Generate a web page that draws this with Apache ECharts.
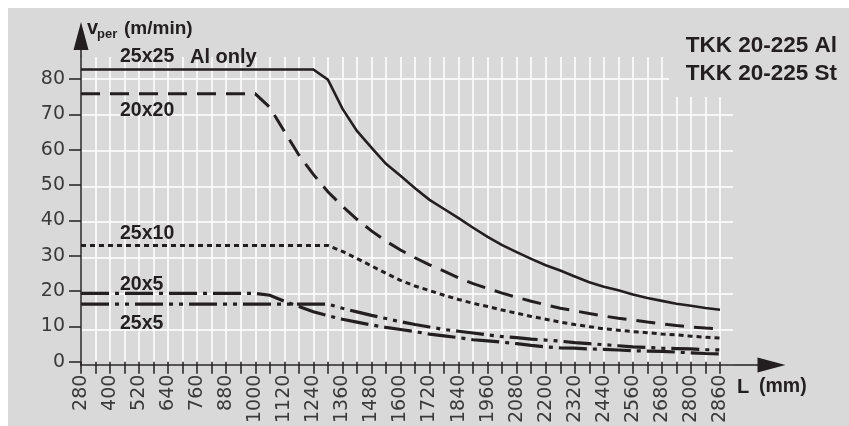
<!DOCTYPE html>
<html><head><meta charset="utf-8">
<script src="https://cdn.jsdelivr.net/npm/echarts@6/dist/echarts.min.js"></script>
<style>html,body{margin:0;padding:0;background:#fff}#c{width:849px;height:426px}</style>
</head><body><div id="c"></div>
<script>
// x tick labels as printed on the chart (minor ticks in between)
const xTickLabels = ['280','400','520','640','760','880','1000','1120','1240','1360','1480','1600','1720','1840','1960','2080','2200','2320','2440','2560','2680','2800','2860'];
const yMin = 0, yMax = 80, yStep = 10;

// values (m/min) at every tick of the L axis (45 ticks)
const s25x25 = [82.7,82.7,82.7,82.7,82.7,82.7,82.7,82.7,82.7,82.7,82.7,82.7,82.7,82.7,82.7,82.7,82.7,
  79.8,71.6,65.3,60.6,56.0,52.6,49.1,45.8,43.2,40.6,37.9,35.3,33.0,31.0,29.1,27.3,25.8,24.1,22.5,21.2,20.2,19.0,18.0,17.2,16.4,15.8,15.2,14.7];
const s20x20 = [75.8,75.8,75.8,75.8,75.8,75.8,75.8,75.8,75.8,75.8,75.8,75.8,75.8,
  72.0,65.2,58.5,53.0,48.1,44.0,40.3,37.0,34.1,31.6,29.4,27.4,25.6,23.7,22.1,20.7,19.4,18.2,17.1,16.1,15.1,14.4,13.6,12.9,12.3,11.8,11.2,10.7,10.2,9.8,9.5,9.3];
const s25x10 = [32.9,32.9,32.9,32.9,32.9,32.9,32.9,32.9,32.9,32.9,32.9,32.9,32.9,32.9,32.9,32.9,32.9,32.9,
  31.2,29.2,27.1,25.0,23.0,21.4,20.1,18.8,17.6,16.5,15.6,14.6,13.7,12.8,12.0,11.2,10.5,9.9,9.3,8.9,8.5,8.2,7.8,7.6,7.2,6.9,6.7];
const s20x5 = [19.3,19.3,19.3,19.3,19.3,19.3,19.3,19.3,19.3,19.3,19.3,19.3,19.3,
  18.8,17.1,15.6,14.1,13.0,12.0,11.2,10.4,9.7,9.1,8.5,7.8,7.3,6.8,6.2,5.9,5.5,5.1,4.6,4.2,3.9,3.8,3.6,3.5,3.3,3.1,3.0,2.9,2.7,2.5,2.3,2.2];
const s25x5 = [16.3,16.3,16.3,16.3,16.3,16.3,16.3,16.3,16.3,16.3,16.3,16.3,16.3,16.3,16.3,16.3,16.3,16.3,
  15.1,14.1,13.1,12.2,11.3,10.5,9.8,9.1,8.6,8.1,7.6,7.1,6.8,6.4,6.1,5.8,5.4,5.1,4.8,4.5,4.2,4.0,3.8,3.7,3.6,3.4,3.3];

const seriesNames = ['25x25','20x20','25x10','20x5','25x5'];
const seriesData = [s25x25, s20x20, s25x10, s20x5, s25x5];
const seriesDash = ['solid',[19,10],[5,4],[28,6,4,6],[28,6,4,6,4,6]];
const seriesWidth = [2.6,3,3,3.2,3.2];

const cats = [];
xTickLabels.forEach((l,i)=>{ cats.push(l); if(i<xTickLabels.length-1) cats.push(String((+l + +xTickLabels[i+1])/2)); });

const INK = '#231f20', BG = '#d9d9d9', TICKC = '#3a3a3a';
const tickFont = {fontFamily:'DejaVu Sans', fontSize:19, color:TICKC};

function txt(t, x, y, font, align){
  return {type:'text', x:x, y:y, z:10, silent:true,
    style:{text:t, font:font, fill:INK, align:align||'left', verticalAlign:'middle', textAlign:align||'left', textVerticalAlign:'middle'}};
}

const chart = echarts.init(document.getElementById('c'), null, {renderer:'canvas'});
chart.setOption({
  animation:false,
  backgroundColor:'#ffffff',
  grid:[
    {left:81, right:129, top:79, bottom:61},
    {left:81, right:129, top:57, bottom:61},
    {left:81, right:116, top:79, bottom:61},
    {left:81, right:77.5, top:36, bottom:61}
  ],
  xAxis:[
    {gridIndex:0, type:'category', data:cats, boundaryGap:false,
     axisLine:{show:false},
     axisTick:{show:true, interval:0, length:12, lineStyle:{color:INK, width:1.5}},
     axisLabel:Object.assign({interval:1, rotate:90, margin:13}, tickFont),
     splitLine:{show:false}},
    {gridIndex:1, type:'category', data:cats, boundaryGap:false,
     axisLine:{show:false}, axisTick:{show:false}, axisLabel:{show:false},
     splitLine:{show:true, interval:0, lineStyle:{color:'#ffffff', width:1.5}}},
    {gridIndex:2, type:'value', min:0, max:1, show:false},
    {gridIndex:3, type:'value', min:0, max:1,
     axisLine:{show:true, onZero:false, symbol:['none','triangle'], symbolSize:[15,28], lineStyle:{color:INK, width:1.5}},
     axisTick:{show:false}, axisLabel:{show:false}, splitLine:{show:false}}
  ],
  yAxis:[
    {gridIndex:0, type:'value', min:yMin, max:yMax, interval:yStep,
     axisLine:{show:false},
     axisTick:{show:true, length:12, lineStyle:{color:INK, width:1.5}},
     axisLabel:Object.assign({margin:16}, tickFont),
     splitLine:{show:false}},
    {gridIndex:1, type:'value', min:0, max:1, show:false},
    {gridIndex:2, type:'value', min:yMin, max:yMax, interval:yStep,
     axisLine:{show:false}, axisTick:{show:false}, axisLabel:{show:false},
     splitLine:{show:true, lineStyle:{color:'#ffffff', width:1.5}}},
    {gridIndex:3, type:'value', min:0, max:1,
     axisLine:{show:true, onZero:false, symbol:['none','triangle'], symbolSize:[15,28], lineStyle:{color:INK, width:1.5}},
     axisTick:{show:false}, axisLabel:{show:false}, splitLine:{show:false}}
  ],
  series: seriesNames.map((n,i)=>({
    name:n, type:'line', xAxisIndex:0, yAxisIndex:0, data:seriesData[i],
    showSymbol:false, symbol:'none', clip:false, z:3,
    lineStyle:{color:INK, width:seriesWidth[i], type:seriesDash[i], cap:'butt', join:'miter'}
  })),
  graphic:[
    {type:'rect', z:-10, silent:true, shape:{x:8,y:8,width:841,height:418}, style:{fill:BG}},
    {type:'rect', z:1, silent:true, shape:{x:669,y:8,width:180,height:89}, style:{fill:BG}},
    txt('25x25', 120, 56.5, 'bold 19.5px "Liberation Sans"'),
    txt('Al only', 190, 57, 'bold 20px "Liberation Sans"'),
    txt('20x20', 120, 110.5, 'bold 19.5px "Liberation Sans"'),
    txt('25x10', 120, 234, 'bold 19.5px "Liberation Sans"'),
    txt('20x5', 120, 285, 'bold 19.5px "Liberation Sans"'),
    txt('25x5', 120, 323.5, 'bold 19.5px "Liberation Sans"'),
    txt('TKK 20-225 Al', 837, 46, 'bold 22.5px "Liberation Sans"', 'right'),
    txt('TKK 20-225 St', 837, 73.5, 'bold 22.5px "Liberation Sans"', 'right'),
    txt('v', 87, 28.5, 'bold 20px "Liberation Sans"'),
    txt('per', 97, 34, 'bold 13px "Liberation Sans"'),
    txt('(m/min)', 124, 28.5, 'bold 19px "Liberation Sans"'),
    txt('L', 737, 387, 'bold 20px "Liberation Sans"'),
    txt('(mm)', 759, 387, 'bold 19.5px "Liberation Sans"')
  ]
});
</script></body></html>
